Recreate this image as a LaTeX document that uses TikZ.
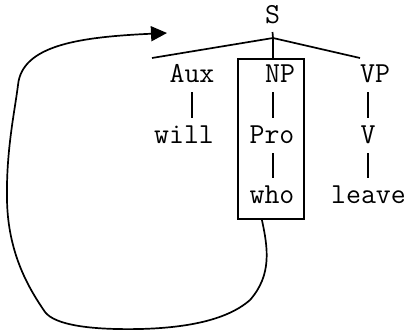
\documentclass[tikz,border=0pt]{standalone}
\usetikzlibrary{arrows.meta,calc}
\begin{document}
\begin{tikzpicture}[x=1pt,y=-1pt,
  lab/.style={font=\ttfamily\fontsize{29}{32}\selectfont, inner sep=0pt, anchor=base},
  ln/.style={line width=1.7pt},
  bar/.style={line width=1.4pt}]
\useasboundingbox (0,0) rectangle (409,332);
% nodes
\node[lab] (S) at (272.5,23) {S};
\node[lab] (aux) at (192,82) {Aux};
\node[lab] (np) at (280,82) {NP};
\node[lab] (vp) at (375,82) {VP};
\node[lab] (will) at (184,143) {will};
\node[lab] (pro) at (272,143) {Pro};
\node[lab] (v) at (368,143) {V};
\node[lab] (who) at (272,203) {who};
\node[lab] (leave) at (368.5,203) {leave};
\node[draw, ln, minimum width=66pt, minimum height=160pt, inner sep=0pt, anchor=north west] (box) at (237,58) {};
\coordinate (J) at (273,38);
\coordinate (L) at (152,58);
\coordinate (R) at (360,58);
\coordinate (tip) at (167,33);
% tree
\draw[ln] (S.base) ++(0,9) -- (J);
\draw[ln] (L) -- (J) -- (R);
\draw[ln] (J) -- (J |- box.north);
\draw[bar] (aux.base) ++(0,10) -- ++(0,26);
\draw[bar] (273,92) -- (273,118);
\draw[bar] (368,92) -- (368,118);
\draw[bar] (pro.base) ++(1,10) -- ++(0,25);
\draw[bar] (v.base) ++(0,10) -- ++(0,25);
% movement arrow
\draw[ln, -{Triangle[length=16pt,width=15pt]}]
  ([xshift=-9pt]box.south) .. controls (268,248) and (272,275) .. (250,300)
  .. controls (225,322) and (180,328) .. (140,329)
  .. controls (90,330) and (55,325) .. (45,312)
  .. controls (30,290) and (8,255) .. (7,200)
  .. controls (6,150) and (15,110) .. (18,85)
  .. controls (22,45) and (80,37) .. (tip);
\end{tikzpicture}
\end{document}
